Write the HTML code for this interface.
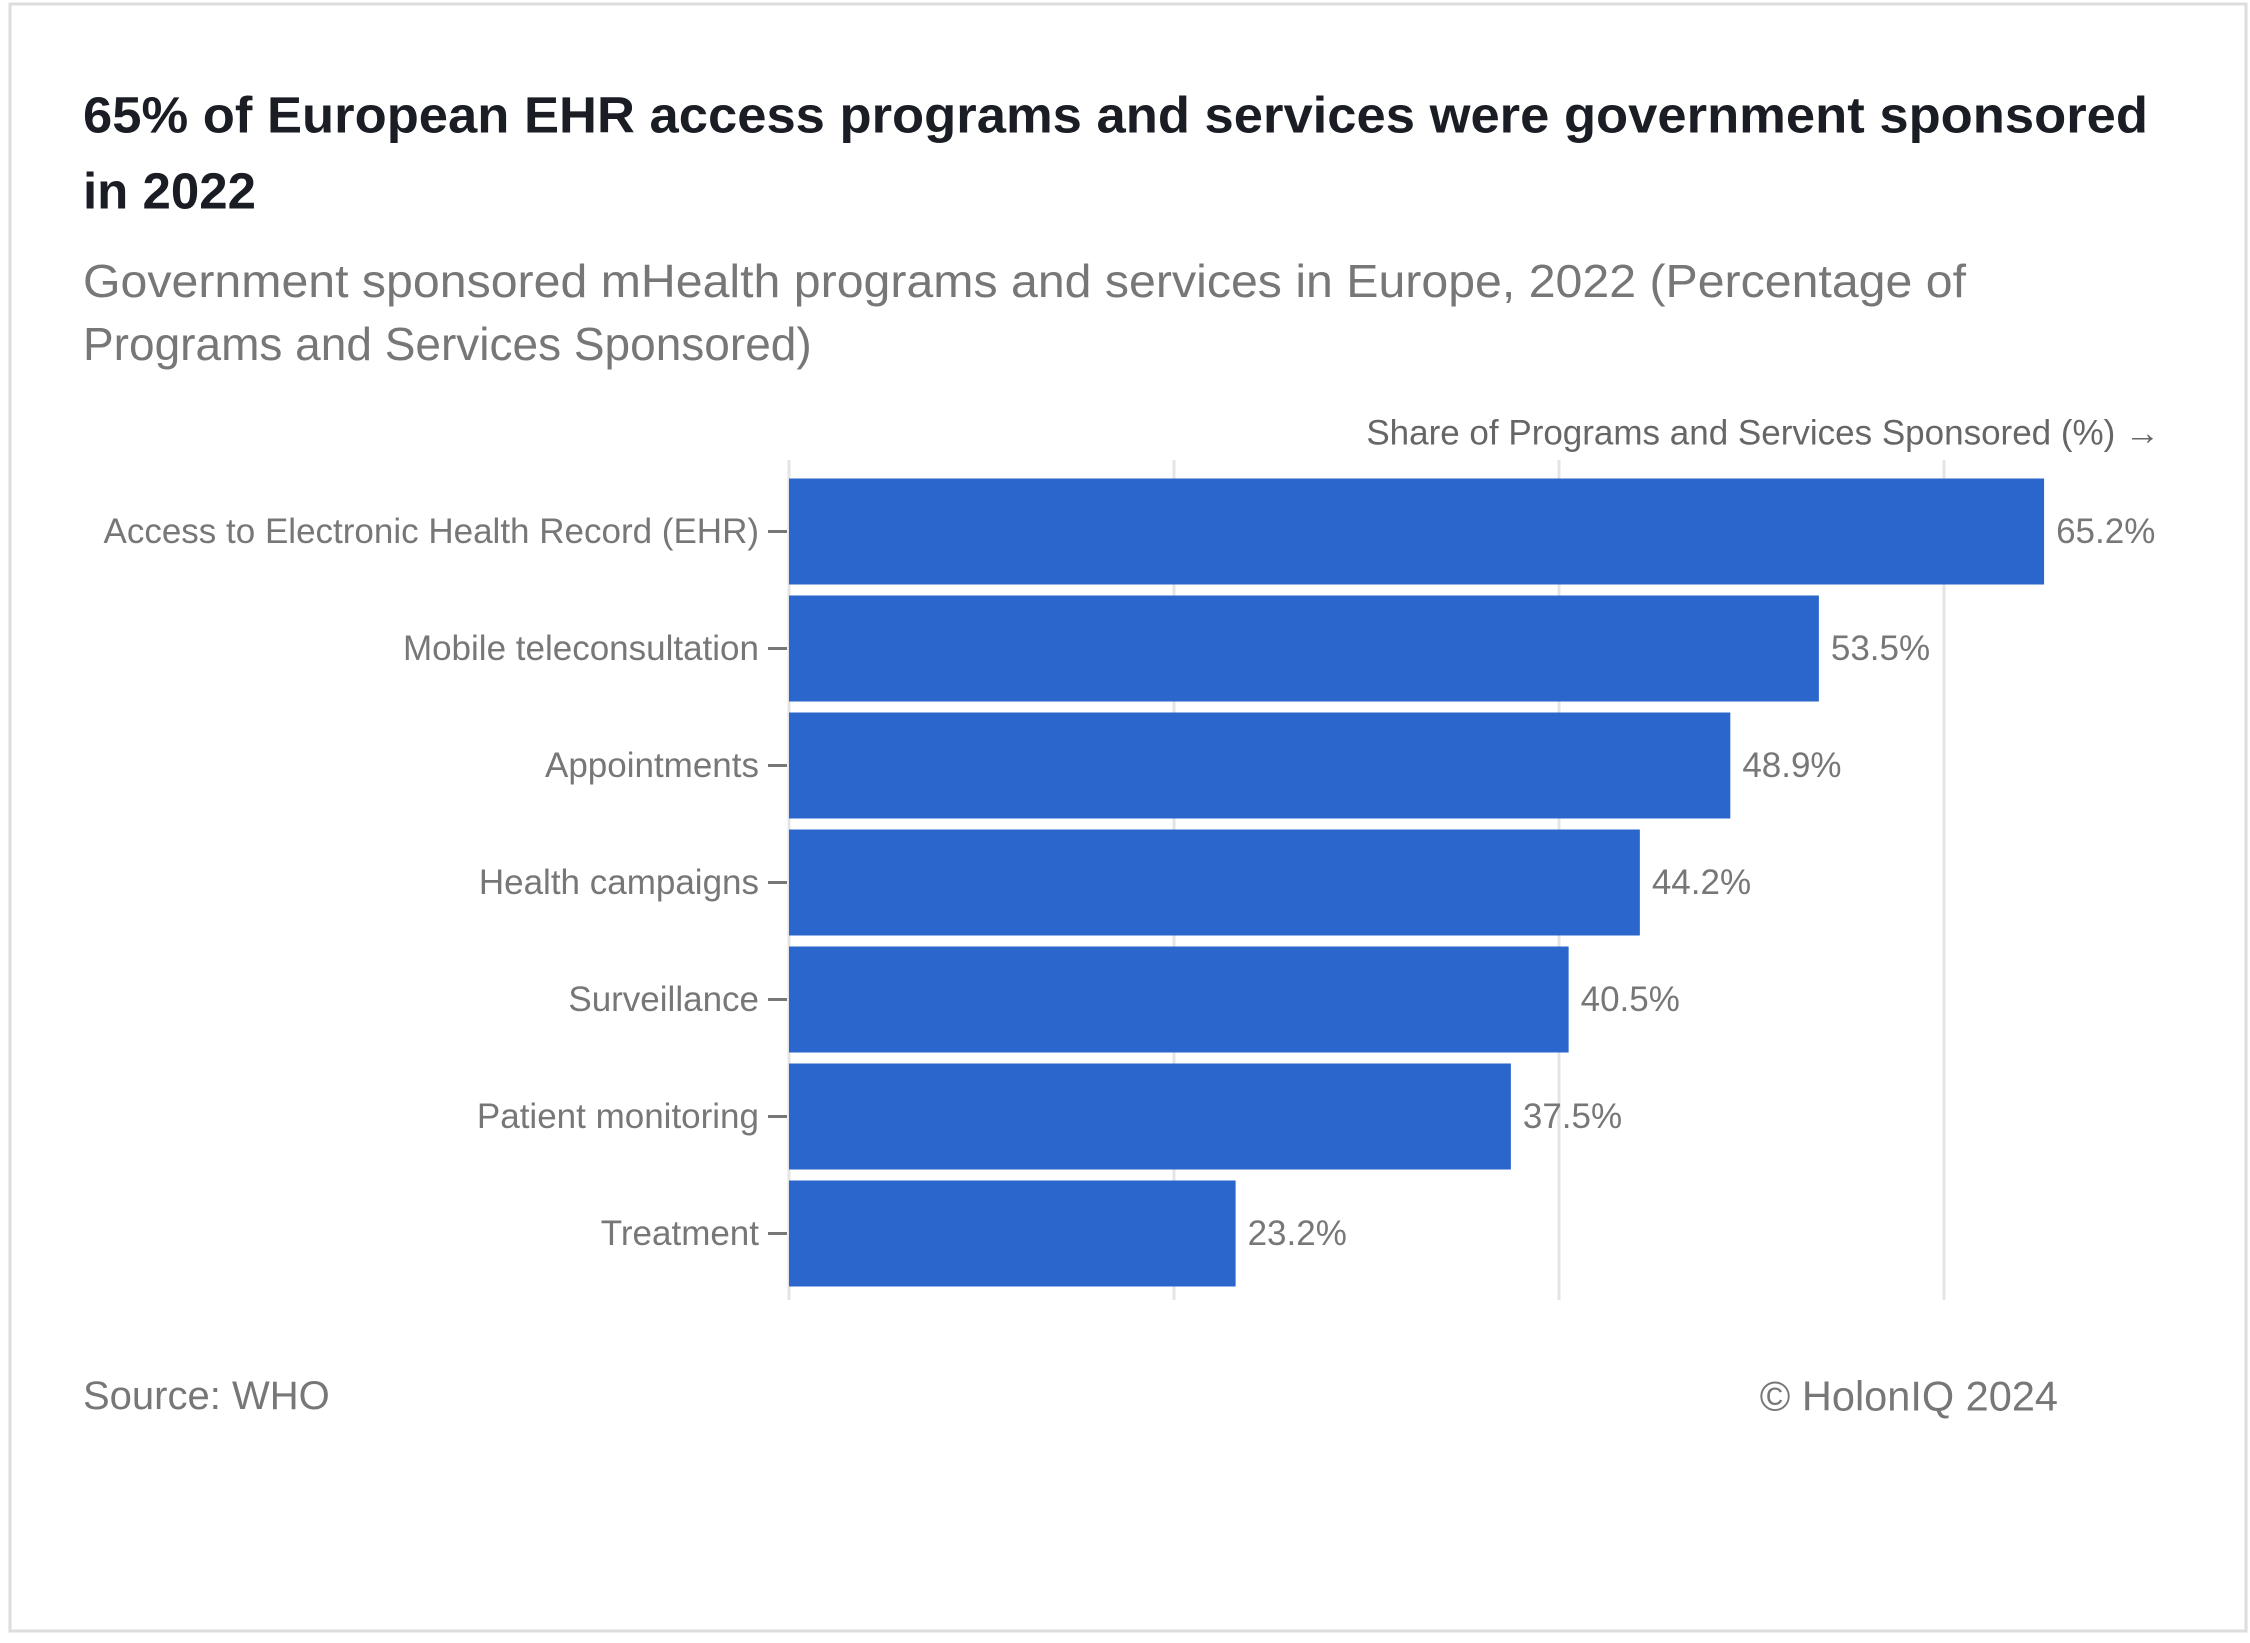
<!DOCTYPE html>
<html><head><meta charset="utf-8">
<style>
html,body{margin:0;padding:0;background:#fff;}
body{width:2250px;height:1638px;overflow:hidden;font-family:"Liberation Sans",sans-serif;}
</style></head>
<body>
<svg width="2250" height="1638" xmlns="http://www.w3.org/2000/svg">
<rect x="10" y="4" width="2236" height="1627" fill="#fff" stroke="#ddd" stroke-width="3"/>
<text x="83" y="115" font-size="51" font-weight="bold" fill="#1a1d24" dominant-baseline="central" textLength="2065" lengthAdjust="spacingAndGlyphs">65% of European EHR access programs and services were government sponsored</text>
<text x="83" y="191" font-size="51" font-weight="bold" fill="#1a1d24" dominant-baseline="central">in 2022</text>
<text x="83" y="281" font-size="46" fill="#777" dominant-baseline="central" textLength="1883" lengthAdjust="spacingAndGlyphs">Government sponsored mHealth programs and services in Europe, 2022 (Percentage of</text>
<text x="83" y="344" font-size="46" fill="#777" dominant-baseline="central">Programs and Services Sponsored)</text>
<text x="2160" y="433" font-size="35" fill="#666" text-anchor="end" dominant-baseline="central">Share of Programs and Services Sponsored (%) →</text>
<g id="grid"></g>
<g id="bars"></g>
<text x="83" y="1396" font-size="40" fill="#777" dominant-baseline="central">Source: WHO</text>
<text x="2058" y="1396" font-size="41.5" fill="#777" text-anchor="end" dominant-baseline="central">© HolonIQ 2024</text>
</svg>
<script>
const categories = ["Access to Electronic Health Record (EHR)","Mobile teleconsultation","Appointments","Health campaigns","Surveillance","Patient monitoring","Treatment"];
const values = [65.2,53.5,48.9,44.2,40.5,37.5,23.2];
const gridTicks = [0,20,40,60];
const ns="http://www.w3.org/2000/svg";
const x0=789, pxPer=19.25, plotTop=473, band=117, barH=106, gridBottom=1300;
const xs=v=>x0+v*pxPer;
const grid=document.getElementById('grid'), bars=document.getElementById('bars');
gridTicks.forEach(t=>{
  const l=document.createElementNS(ns,'line');
  
  
  l.setAttribute('x1',xs(t));l.setAttribute('x2',xs(t));l.setAttribute('y1',460);l.setAttribute('y2',gridBottom);
  l.setAttribute('stroke','#e4e4e4');l.setAttribute('stroke-width','3');
  grid.appendChild(l);
});
categories.forEach((c,i)=>{
  const y=plotTop+i*band+(band-barH)/2, cy=y+barH/2;
  const r=document.createElementNS(ns,'rect');
  
  
  r.setAttribute('x',x0);r.setAttribute('y',y);r.setAttribute('width',xs(values[i])-x0);r.setAttribute('height',barH);r.setAttribute('fill','#2a66cc');
  bars.appendChild(r);
  const tk=document.createElementNS(ns,'line');
  
  
  tk.setAttribute('x1',768);tk.setAttribute('x2',787);tk.setAttribute('y1',cy);tk.setAttribute('y2',cy);tk.setAttribute('stroke','#777');tk.setAttribute('stroke-width','3');
  bars.appendChild(tk);
  const lb=document.createElementNS(ns,'text');
  
  
  lb.setAttribute('x',759);lb.setAttribute('y',cy);lb.setAttribute('text-anchor','end');lb.setAttribute('dominant-baseline','central');lb.setAttribute('font-size','35');lb.setAttribute('fill','#777');
  lb.textContent=c;bars.appendChild(lb);
  const vl=document.createElementNS(ns,'text');
  
  
  vl.setAttribute('x',xs(values[i])+12);vl.setAttribute('y',cy);vl.setAttribute('dominant-baseline','central');vl.setAttribute('font-size','35');vl.setAttribute('fill','#777');
  vl.textContent=values[i].toFixed(1)+'%';bars.appendChild(vl);
});
</script>
</body></html>
